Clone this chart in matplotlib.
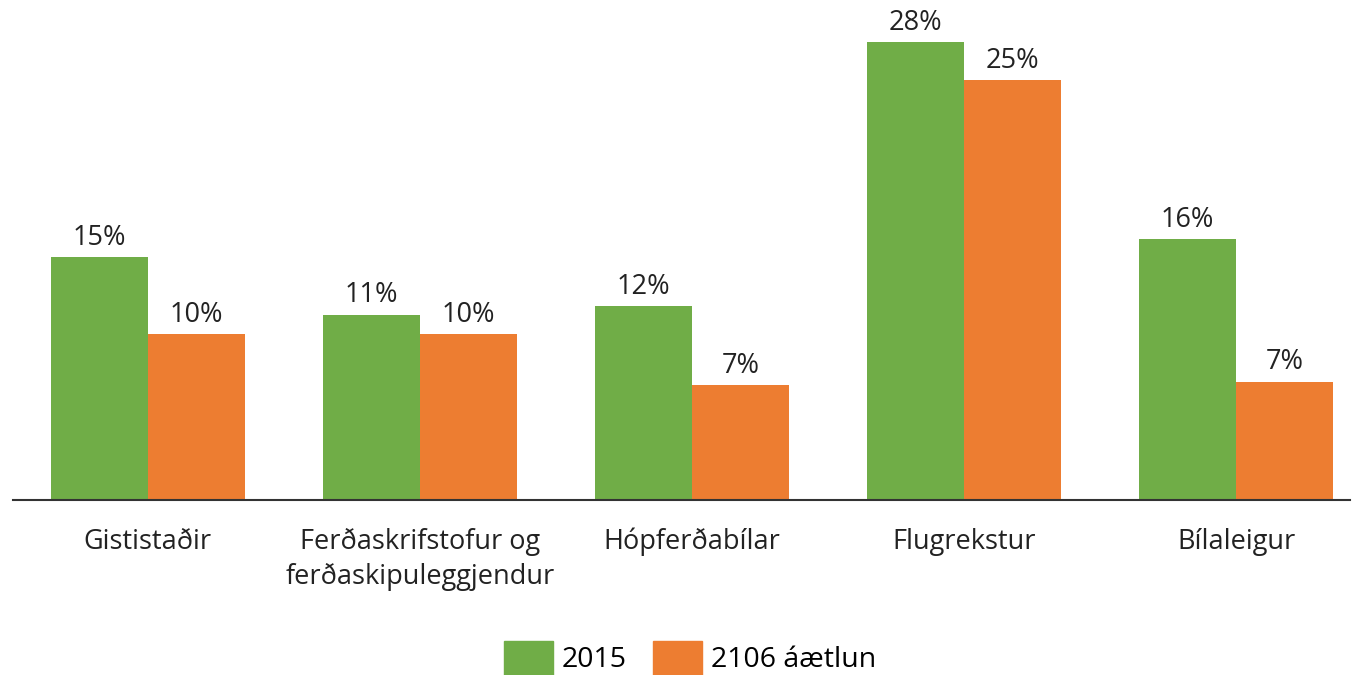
import numpy as np
import matplotlib.pyplot as plt
from matplotlib.patches import Patch

plt.rcParams['font.family'] = ['Open Sans', 'DejaVu Sans']

categories = ['Gististaðir', 'Ferðaskrifstofur og\nferðaskipuleggjendur',
              'Hópferðabílar', 'Flugrekstur', 'Bílaleigur']
vals_2015 = [14.8, 11.3, 11.8, 27.9, 15.9]
vals_2016 = [10.1, 10.1, 7.0, 25.6, 7.2]
labels_2015 = ['15%', '11%', '12%', '28%', '16%']
labels_2016 = ['10%', '10%', '7%', '25%', '7%']
series_names = ['2015', '2106 áætlun']

green = '#70AD47'
orange = '#ED7D31'

fig = plt.figure(figsize=(13.58, 6.75), dpi=100)
ax = fig.add_axes([13/1358, 175/675, 1337/1358, 500/675])

x = np.arange(len(categories))
w = 0.357
b1 = ax.bar(x - w/2, vals_2015, w, color=green)
b2 = ax.bar(x + w/2, vals_2016, w, color=orange)

for bars, labs in ((b1, labels_2015), (b2, labels_2016)):
    for r, t in zip(bars, labs):
        ax.annotate(t, (r.get_x() + r.get_width()/2, r.get_height()),
                    xytext=(0, 4), textcoords='offset points',
                    ha='center', va='bottom', fontsize=19.5, color='#222222')

ax.set_xlim(-0.496, 4.419)
ax.set_ylim(0, 30.49)
ax.set_xticks(x)
ax.set_xticklabels(categories, fontsize=19.5, color='#222222', linespacing=1.35)
ax.tick_params(axis='x', length=0, pad=20)
ax.set_yticks([])
for s in ['top', 'right', 'left']:
    ax.spines[s].set_visible(False)
ax.spines['bottom'].set_color('#333333')
ax.spines['bottom'].set_linewidth(1.5)

handles = [Patch(color=green), Patch(color=orange)]
fig.legend(handles, series_names, loc='center', bbox_to_anchor=(0.508, 17/675),
           ncol=2, frameon=False, fontsize=20.5, handlelength=1.75, handleheight=1.5,
           columnspacing=0.9, handletextpad=0.3, borderpad=0.1)

fig.savefig('out.png', dpi=100)
